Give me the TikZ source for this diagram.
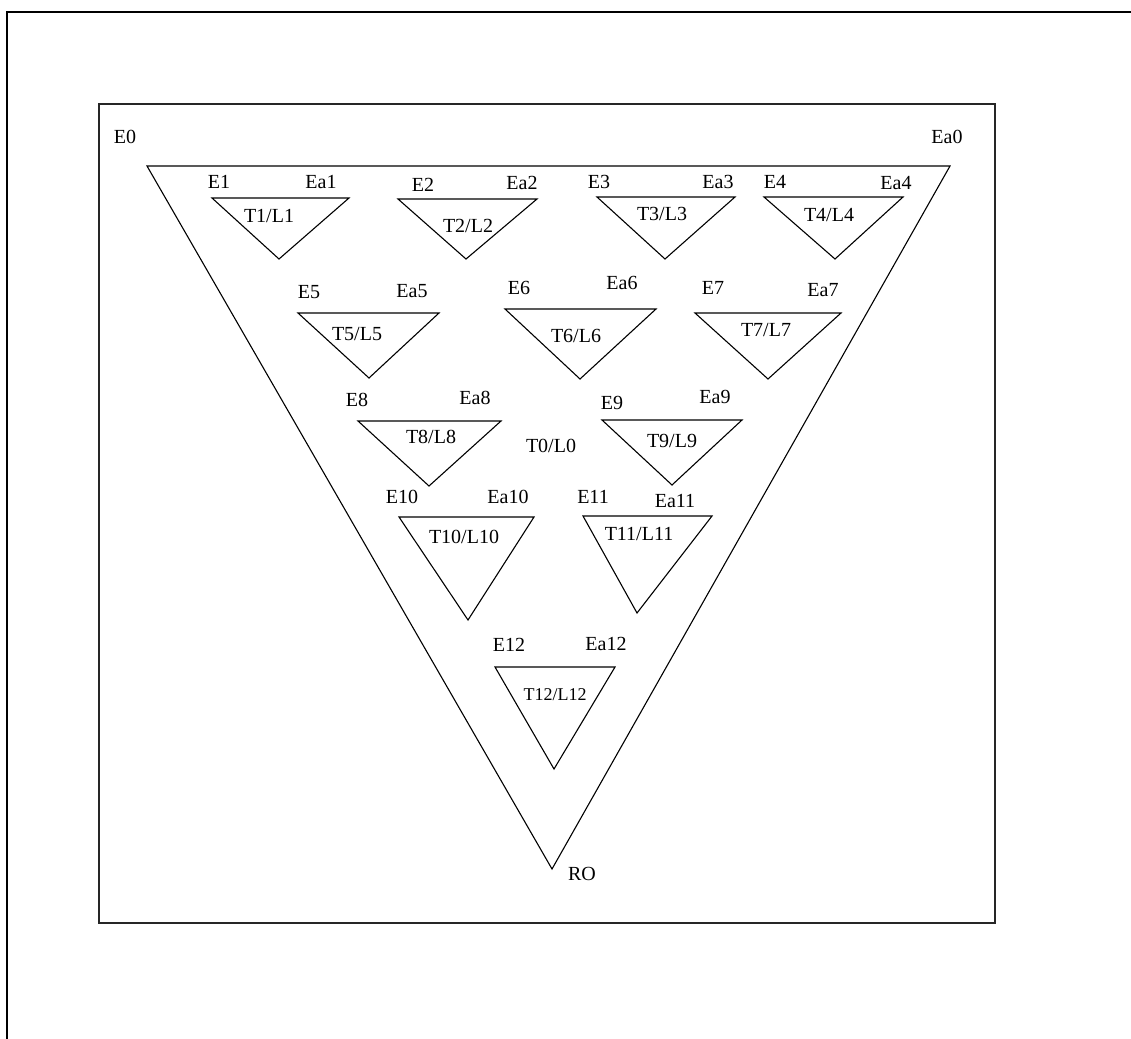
\documentclass[tikz,border=0pt]{standalone}
\usepackage{fontspec}
\setmainfont{Liberation Serif}
\usetikzlibrary{calc}

\begin{document}
\begin{tikzpicture}[
  x=1pt, y=-1pt,
  frame/.style={draw=black, line width=2.5pt},
  panel/.style={draw=black!85, line width=1.6pt},
  tri/.style={draw=black, line width=1.1pt, line join=miter},
  lab/.style={inner sep=0pt, font=\fontsize{20}{20}\selectfont},
  tlab/.style={lab, font=\fontsize{20}{20}\selectfont},
  small/.style={lab, font=\fontsize{18}{18}\selectfont},
]

% ------------------------------------------------------------------ page frame
\clip (0,0) rectangle (1131,1038);
\draw[frame] (7,12) rectangle (1160,1070);
\draw[panel] (99,104) rectangle (995,923);

% ----------------------------------------------------------- outer triangle T0
\coordinate (t0l) at (147,166);
\coordinate (t0r) at (950,166);
\coordinate (t0b) at (552,869);
\draw[tri] (t0l) -- (t0r) -- (t0b) -- cycle;
\node[lab] (e0)  at (125,137) {E0};
\node[lab] (ea0) at (947,137) {Ea0};
\node[lab] (ro)  at (582,874) {RO};
\node[tlab] (tl0) at (551,446) {T0/L0};

% ------------------------------------------------------------------- first row
\coordinate (t1l) at (212,198);
\coordinate (t1r) at (349,198);
\coordinate (t1b) at (279,259);
\draw[tri] (t1l) -- (t1r) -- (t1b) -- cycle;
\node[lab] (e1)  at (219,182) {E1};
\node[lab] (ea1) at (321,182) {Ea1};
\node[tlab] (tl1) at (269,216) {T1/L1};

\coordinate (t2l) at (398,199);
\coordinate (t2r) at (537,199);
\coordinate (t2b) at (466,259);
\draw[tri] (t2l) -- (t2r) -- (t2b) -- cycle;
\node[lab] (e2)  at (423,185) {E2};
\node[lab] (ea2) at (522,183) {Ea2};
\node[tlab] (tl2) at (468,226) {T2/L2};

\coordinate (t3l) at (597,197);
\coordinate (t3r) at (735,197);
\coordinate (t3b) at (665,259);
\draw[tri] (t3l) -- (t3r) -- (t3b) -- cycle;
\node[lab] (e3)  at (599,182) {E3};
\node[lab] (ea3) at (718,182) {Ea3};
\node[tlab] (tl3) at (662,214) {T3/L3};

\coordinate (t4l) at (764,197);
\coordinate (t4r) at (903,197);
\coordinate (t4b) at (835,259);
\draw[tri] (t4l) -- (t4r) -- (t4b) -- cycle;
\node[lab] (e4)  at (775,182) {E4};
\node[lab] (ea4) at (896,183) {Ea4};
\node[tlab] (tl4) at (829,215) {T4/L4};

% ------------------------------------------------------------------ second row
\coordinate (t5l) at (298,313);
\coordinate (t5r) at (439,313);
\coordinate (t5b) at (369,378);
\draw[tri] (t5l) -- (t5r) -- (t5b) -- cycle;
\node[lab] (e5)  at (309,292) {E5};
\node[lab] (ea5) at (412,291) {Ea5};
\node[tlab] (tl5) at (357,334) {T5/L5};

\coordinate (t6l) at (505,309);
\coordinate (t6r) at (656,309);
\coordinate (t6b) at (580,379);
\draw[tri] (t6l) -- (t6r) -- (t6b) -- cycle;
\node[lab] (e6)  at (519,288) {E6};
\node[lab] (ea6) at (622,283) {Ea6};
\node[tlab] (tl6) at (576,336) {T6/L6};

\coordinate (t7l) at (695,313);
\coordinate (t7r) at (841,313);
\coordinate (t7b) at (768,379);
\draw[tri] (t7l) -- (t7r) -- (t7b) -- cycle;
\node[lab] (e7)  at (713,288) {E7};
\node[lab] (ea7) at (823,290) {Ea7};
\node[tlab] (tl7) at (766,330) {T7/L7};

% ------------------------------------------------------------------- third row
\coordinate (t8l) at (358,421);
\coordinate (t8r) at (501,421);
\coordinate (t8b) at (429,486);
\draw[tri] (t8l) -- (t8r) -- (t8b) -- cycle;
\node[lab] (e8)  at (357,400) {E8};
\node[lab] (ea8) at (475,398) {Ea8};
\node[tlab] (tl8) at (431,437) {T8/L8};

\coordinate (t9l) at (602,420);
\coordinate (t9r) at (742,420);
\coordinate (t9b) at (672,485);
\draw[tri] (t9l) -- (t9r) -- (t9b) -- cycle;
\node[lab] (e9)  at (612,403) {E9};
\node[lab] (ea9) at (715,397) {Ea9};
\node[tlab] (tl9) at (672,441) {T9/L9};

% ------------------------------------------------------------------ fourth row
\coordinate (t10l) at (399,517);
\coordinate (t10r) at (534,517);
\coordinate (t10b) at (468,620);
\draw[tri] (t10l) -- (t10r) -- (t10b) -- cycle;
\node[lab] (e10)  at (402,497) {E10};
\node[lab] (ea10) at (508,497) {Ea10};
\node[tlab] (tl10) at (464,537) {T10/L10};

\coordinate (t11l) at (583,516);
\coordinate (t11r) at (712,516);
\coordinate (t11b) at (637,613);
\draw[tri] (t11l) -- (t11r) -- (t11b) -- cycle;
\node[lab] (e11)  at (593,497) {E11};
\node[lab] (ea11) at (675,501) {Ea11};
\node[tlab] (tl11) at (639,534) {T11/L11};

% -------------------------------------------------------------------- last one
\coordinate (t12l) at (495,667);
\coordinate (t12r) at (615,667);
\coordinate (t12b) at (554,769);
\draw[tri] (t12l) -- (t12r) -- (t12b) -- cycle;
\node[lab] (e12)  at (509,645) {E12};
\node[lab] (ea12) at (606,644) {Ea12};
\node[small] (tl12) at (555,695) {T12/L12};
\end{tikzpicture}
\end{document}
